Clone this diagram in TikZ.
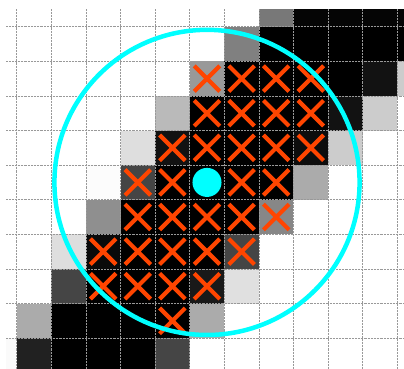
\documentclass[tikz,border=0pt]{standalone}
\usepackage{tikz}
\definecolor{xred}{RGB}{255,69,0}
\definecolor{ring}{RGB}{0,255,255}
\begin{document}
\begin{tikzpicture}[x=1cm,y=1cm,
cross/.style={xred,line width=3.4pt},
gridline/.style={black!40,line width=0.6pt,dash pattern=on 0.6pt off 0.6pt}]
\useasboundingbox[fill=white](-0.483,-9.893)rectangle(11.194,0.772);
\begin{scope}
\clip(-0.309,-9.893)rectangle(11.194,0.512);
% pixels: c/r/percent black
\foreach \c/\r/\g in {7/-1/53,8/-1/98,9/-1/98,10/-1/98,11/-1/98,
6/0/50,7/0/100,8/0/100,9/0/100,10/0/100,11/0/100,
5/1/40,6/1/100,7/1/100,8/1/100,9/1/100,10/1/93,11/1/20,
4/2/27,5/2/100,6/2/100,7/2/100,8/2/100,9/2/93,10/2/20,
3/3/13,4/3/93,5/3/100,6/3/100,7/3/100,8/3/95,9/3/20,
2/4/1,3/4/73,4/4/100,5/4/100,6/4/100,7/4/100,8/4/33,
2/5/44,3/5/100,4/5/100,5/5/100,6/5/100,7/5/47,
1/6/13,2/6/96,3/6/100,4/6/100,5/6/100,6/6/73,
1/7/73,2/7/100,3/7/100,4/7/100,5/7/90,6/7/12,
0/8/33,1/8/100,2/8/100,3/8/100,4/8/100,5/8/33,
-1/9/2,0/9/87,1/9/100,2/9/100,3/9/100,4/9/73}
\fill[black!\g](\c,-\r)rectangle++(1,-1);
\foreach \x in {0,...,11}\draw[gridline](\x,0.512)--(\x,-9.893);
\foreach \y in {0,...,9}\draw[gridline](-0.309,-\y)--(11.194,-\y);
\end{scope}
\foreach \c/\r in {5/1,6/1,7/1,8/1,5/2,6/2,7/2,8/2,4/3,5/3,6/3,7/3,8/3,
3/4,4/4,6/4,7/4,3/5,4/5,5/5,6/5,7/5,2/6,3/6,4/6,5/6,6/6,
2/7,3/7,4/7,5/7,4/8}
\draw[cross](\c+0.13,-\r-0.13)--(\c+0.87,-\r-0.87)
(\c+0.87,-\r-0.13)--(\c+0.13,-\r-0.87);
\draw[ring,line width=3.7pt](5.5,-4.5)circle(4.41);
\fill[ring](5.5,-4.5)circle(0.42);
\end{tikzpicture}
\end{document}
